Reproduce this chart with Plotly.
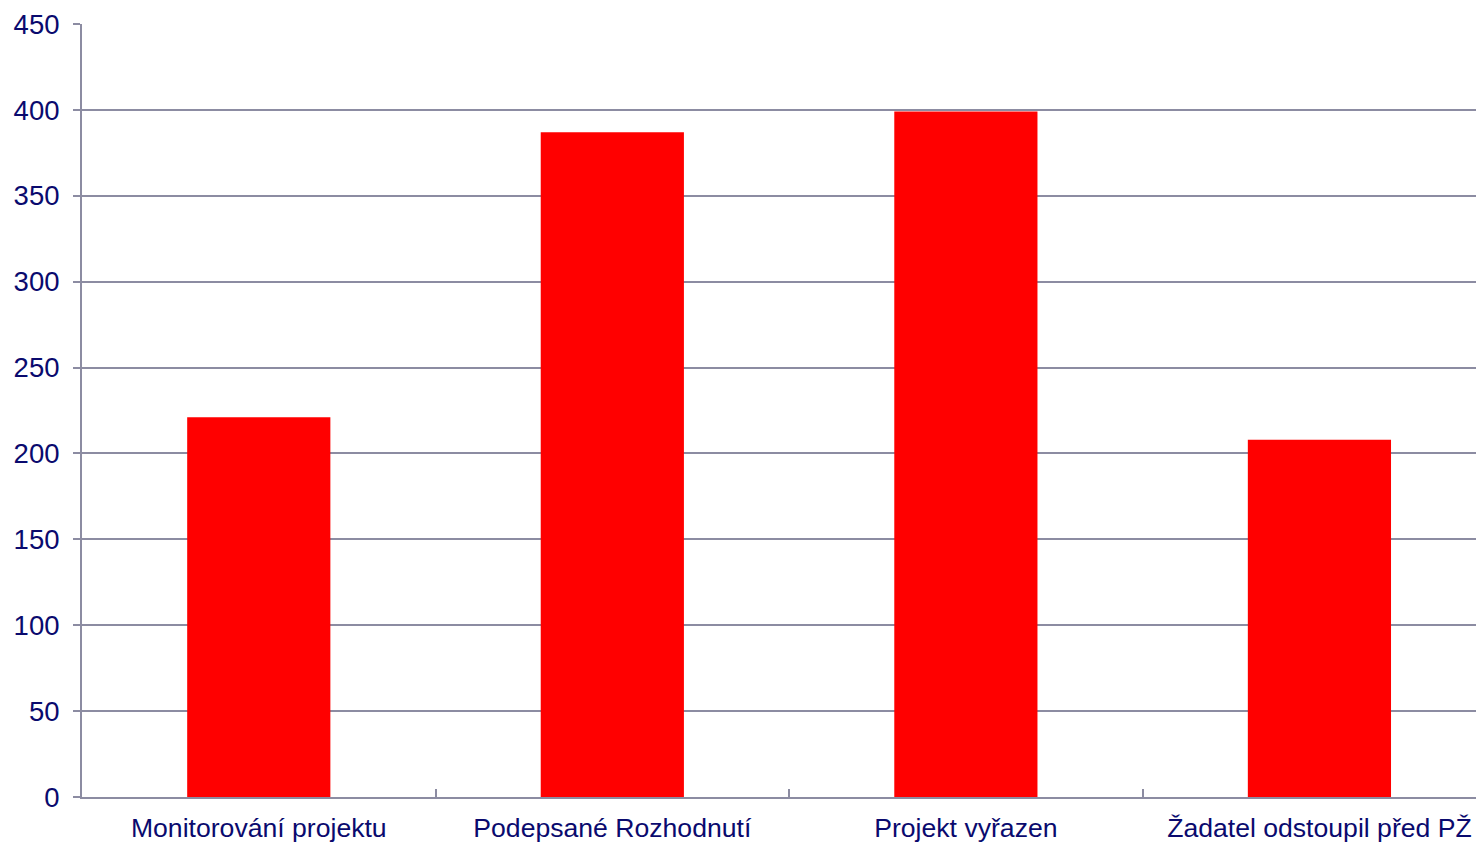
import plotly.graph_objects as go

categories = ["Monitorování projektu", "Podepsané Rozhodnutí", "Projekt vyřazen", "Žadatel odstoupil před PŽ"]
values = [221, 387, 399, 208]
y_ticks = [0, 50, 100, 150, 200, 250, 300, 350, 400, 450]

grid = "#8c8ca2"
txt = "#0a0a6e"

fig = go.Figure(go.Bar(x=categories, y=values, marker=dict(color="#ff0000", line=dict(width=0)),
                       width=0.405))

# page body has an 8px margin, so the figure is shifted by 8px; compensate
fig.update_layout(
    width=1476, height=834,
    margin=dict(l=74, r=0, t=16, b=45),
    paper_bgcolor="white", plot_bgcolor="white",
    font=dict(family="Liberation Sans, Arial, sans-serif", size=27, color=txt),
    showlegend=False,
)
fig.update_xaxes(
    range=[-0.5, 3.4655], type="category",
    showline=True, linecolor=grid, linewidth=2,
    ticks="inside", tickson="boundaries", ticklen=8, tickcolor=grid, tickwidth=1.5,
    showgrid=False, tickfont=dict(size=26.6, color=txt), ticklabelstandoff=6,
)
fig.update_yaxes(
    range=[0, 450], tickvals=y_ticks, ticktext=[str(v) for v in y_ticks],
    showline=True, linecolor=grid, linewidth=2,
    showgrid=True, gridcolor=grid, gridwidth=2,
    ticks="outside", ticklen=7, tickcolor=grid, tickwidth=2,
    tickfont=dict(size=27.5, color=txt), ticklabelstandoff=8, zeroline=False,
)
fig.write_html("out.html")
